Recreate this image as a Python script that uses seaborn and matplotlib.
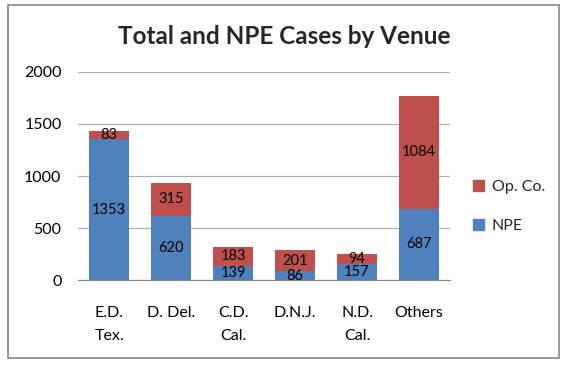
import matplotlib
matplotlib.use("Agg")
import matplotlib.pyplot as plt
import seaborn as sns
import numpy as np
from matplotlib.patches import Rectangle, Patch

# ------------------------------------------------------------
# Data
# ------------------------------------------------------------
venues = ["E.D.\nTex.", "D. Del.", "C.D.\nCal.", "D.N.J.", "N.D.\nCal.", "Others"]
npe = [1353, 620, 139, 86, 157, 687]
op_co = [83, 315, 183, 201, 94, 1084]
totals = [a + b for a, b in zip(npe, op_co)]

blue = "#4F81BD"
red = "#C0504D"

sns.set_style("white")
plt.rcParams['font.family'] = ['Lato', 'DejaVu Sans']

fig = plt.figure(figsize=(5.66, 3.69), dpi=100)
ax = fig.add_axes([0.138, 0.241, 0.657, 0.564])

# total bar (red) underneath, NPE (blue) drawn on top
sns.barplot(x=venues, y=totals, color=red, width=0.65, saturation=1, linewidth=0, ax=ax)
sns.barplot(x=venues, y=npe, color=blue, width=0.65, saturation=1, linewidth=0, ax=ax)

n = len(venues)
red_bars = ax.patches[:n]
blue_bars = ax.patches[n:2 * n]
for rb, bb, v_npe, v_op in zip(red_bars, blue_bars, npe, op_co):
    cx = bb.get_x() + bb.get_width() / 2
    ax.text(cx, v_npe / 2, str(v_npe), ha='center', va='center', fontsize=10.5, color='black')
    ax.text(cx, v_npe + v_op / 2, str(v_op), ha='center', va='center', fontsize=10.5, color='black')

ax.set_ylim(0, 2000)
ax.set_yticks(range(0, 2001, 500))
ax.set_xlim(-0.5, n - 0.5)
ax.yaxis.grid(True, color='#b0b0b0', linewidth=0.9)
ax.set_axisbelow(True)
for s in ['top', 'right', 'left']:
    ax.spines[s].set_visible(False)
ax.spines['bottom'].set_color('#868686')
ax.tick_params(axis='both', length=0, labelsize=11.5, colors='black')
ax.tick_params(axis='x', pad=19)
ax.tick_params(axis='y', pad=12)
for lbl in ax.get_xticklabels():
    lbl.set_linespacing(1.75)
ax.set_xlabel('')
ax.set_ylabel('')

handles = [Patch(color=red, label='Op. Co.'), Patch(color=blue, label='NPE')]
fig.legend(handles=handles, loc='center left', bbox_to_anchor=(0.836, 0.44),
           frameon=False, fontsize=11.5, handlelength=0.65, handleheight=0.65,
           labelspacing=1.55, handletextpad=0.5, borderpad=0, borderaxespad=0)

fig.text(0.503, 0.9, 'Total and NPE Cases by Venue', ha='center', va='center',
         fontsize=17.5, fontweight='bold')

fig.patches.append(Rectangle((8 / 566, 1 - 358 / 369), 551 / 566, 353 / 369,
                             transform=fig.transFigure, fill=False,
                             edgecolor='#868686', linewidth=1.2))

plt.savefig('out.png', dpi=100)
plt.close()
